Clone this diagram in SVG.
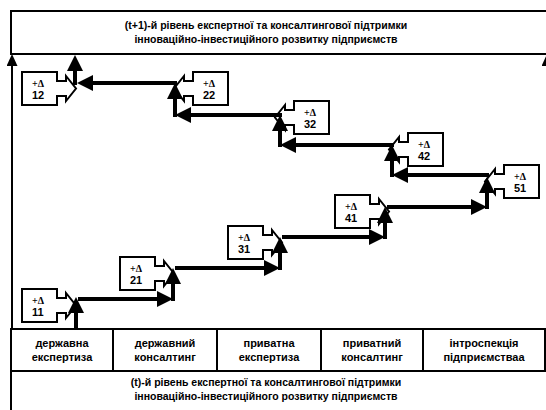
<svg xmlns="http://www.w3.org/2000/svg" width="546" height="410" viewBox="0 0 546 410">
  <style>
    .frame { fill: #fff; stroke: #000; stroke-width: 2; }
    .cell { fill: none; stroke: #000; stroke-width: 2; }
    .lvl { font-family: "Liberation Sans", Arial, sans-serif; font-weight: bold; font-size: 10.5px; fill: #000; text-anchor: middle; }
    .ct { font-family: "Liberation Sans", Arial, sans-serif; font-weight: bold; font-size: 11px; fill: #000; text-anchor: middle; }
    .d { font-family: "Liberation Serif", "Times New Roman", serif; font-weight: bold; font-size: 10px; fill: #000; }
    .n { font-family: "Liberation Sans", Arial, sans-serif; font-weight: bold; font-size: 11px; fill: #000; }
    .box { fill: #fff; stroke: #000; stroke-width: 2; stroke-linejoin: miter; }
    .con { fill: none; stroke: #000; stroke-width: 4; }
    .thin { fill: none; stroke: #000; stroke-width: 2; }
  </style>
  <defs>
    <!-- block with a notched arrow leaving its right side -->
    <path id="boxR" d="M0,0 H35 V9 H44 V4 L54,16.5 L44,29 V24 H35 V33 H0 Z"/>
    <!-- block with a notched arrow leaving its left side -->
    <path id="boxL" d="M0,0 H35 V33 H0 V24 H-9 V29 L-19,16.5 L-9,4 V9 H0 Z"/>
    <marker id="ah" markerUnits="userSpaceOnUse" markerWidth="16" markerHeight="16" viewBox="0 0 16 16" refX="4" refY="8" orient="auto">
      <path d="M0,0 L16,8 L0,16 Z" fill="#000"/>
    </marker>
    <marker id="ahs" markerUnits="userSpaceOnUse" markerWidth="12" markerHeight="11" viewBox="0 0 12 11" refX="3" refY="5.5" orient="auto">
      <path d="M0,0 L12,5.5 L0,11 Z" fill="#000"/>
    </marker>
  </defs>

  <rect width="546" height="410" fill="#fff"/>

  <!-- (t+1) level -->
  <g id="level-next">
    <rect class="frame" x="11" y="11" width="560" height="43"/>
    <text class="lvl" x="266" y="29">(t+1)-й рівень експертної та консалтингової підтримки</text>
    <text class="lvl" x="266" y="43">інноваційно-інвестиційного розвитку підприємств</text>
  </g>

  <!-- (t) level -->
  <g id="level-current">
    <rect class="frame" x="11" y="371" width="560" height="60"/>
    <text class="lvl" x="266" y="386">(t)-й рівень експертної та консалтингової підтримки</text>
    <text class="lvl" x="266" y="400">інноваційно-інвестиційного розвитку підприємств</text>
  </g>

  <!-- support forms row -->
  <g id="forms">
    <rect class="frame" x="11" y="329" width="534" height="42"/>
    <path class="cell" d="M113,329 V371 M217,329 V371 M321,329 V371 M423,329 V371"/>
    <g id="form-1">
      <text class="ct" x="62" y="347">державна</text>
      <text class="ct" x="62" y="361">експертиза</text>
    </g>
    <g id="form-2">
      <text class="ct" x="165" y="347">державний</text>
      <text class="ct" x="165" y="361">консалтинг</text>
    </g>
    <g id="form-3">
      <text class="ct" x="269" y="347">приватна</text>
      <text class="ct" x="269" y="361">експертиза</text>
    </g>
    <g id="form-4">
      <text class="ct" x="372" y="347">приватний</text>
      <text class="ct" x="372" y="361">консалтинг</text>
    </g>
    <g id="form-5">
      <text class="ct" x="484" y="347">інтроспекція</text>
      <text class="ct" x="484" y="361">підприємстваа</text>
    </g>
  </g>

  <!-- increment blocks -->
  <g id="d11" transform="translate(22,289)">
    <use href="#boxR" class="box"/>
    <text class="d" x="10" y="15">+Δ</text><text class="n" x="10" y="27">11</text>
  </g>
  <g id="d21" transform="translate(120,257)">
    <use href="#boxR" class="box"/>
    <text class="d" x="10" y="15">+Δ</text><text class="n" x="10" y="27">21</text>
  </g>
  <g id="d31" transform="translate(228,226)">
    <use href="#boxR" class="box"/>
    <text class="d" x="10" y="15">+Δ</text><text class="n" x="10" y="27">31</text>
  </g>
  <g id="d41" transform="translate(335,195)">
    <use href="#boxR" class="box"/>
    <text class="d" x="10" y="15">+Δ</text><text class="n" x="10" y="27">41</text>
  </g>
  <g id="d51" transform="translate(504,165)">
    <use href="#boxL" class="box"/>
    <text class="d" x="10" y="15">+Δ</text><text class="n" x="10" y="27">51</text>
  </g>
  <g id="d42" transform="translate(408,133)">
    <use href="#boxL" class="box"/>
    <text class="d" x="10" y="15">+Δ</text><text class="n" x="10" y="27">42</text>
  </g>
  <g id="d32" transform="translate(294,101)">
    <use href="#boxL" class="box"/>
    <text class="d" x="10" y="15">+Δ</text><text class="n" x="10" y="27">32</text>
  </g>
  <g id="d22" transform="translate(193,72)">
    <use href="#boxL" class="box"/>
    <text class="d" x="10" y="15">+Δ</text><text class="n" x="10" y="27">22</text>
  </g>
  <g id="d12" transform="translate(22,72)">
    <use href="#boxR" class="box"/>
    <text class="d" x="10" y="15">+Δ</text><text class="n" x="10" y="27">12</text>
  </g>

  <!-- connectors -->
  <g id="connectors">
    <path class="thin" d="M12,329 V63" marker-end="url(#ahs)"/>
    <path class="thin" d="M547,329 V63" marker-end="url(#ahs)"/>
    <!-- rising chain -->
    <path class="con" d="M76,329 V309" marker-end="url(#ah)"/>
    <path class="con" d="M78,299 H161" marker-end="url(#ah)"/>
    <path class="con" d="M173,301 V280" marker-end="url(#ah)"/>
    <path class="con" d="M175,268 H268" marker-end="url(#ah)"/>
    <path class="con" d="M280,270 V249" marker-end="url(#ah)"/>
    <path class="con" d="M282,237 H373" marker-end="url(#ah)"/>
    <path class="con" d="M385,239 V219" marker-end="url(#ah)"/>
    <path class="con" d="M387,207 H475" marker-end="url(#ah)"/>
    <path class="con" d="M487,209 V189" marker-end="url(#ah)"/>
    <!-- returning chain -->
    <path class="con" d="M489,175 H404" marker-end="url(#ah)"/>
    <path class="con" d="M392,177 V157" marker-end="url(#ah)"/>
    <path class="con" d="M394,145 H292" marker-end="url(#ah)"/>
    <path class="con" d="M280,147 V127" marker-end="url(#ah)"/>
    <path class="con" d="M282,115 H187" marker-end="url(#ah)"/>
    <path class="con" d="M175,117 V95" marker-end="url(#ah)"/>
    <path class="con" d="M177,83 H89" marker-end="url(#ah)"/>
    <path class="con" d="M75,85 V67" marker-end="url(#ah)"/>
  </g>
</svg>
